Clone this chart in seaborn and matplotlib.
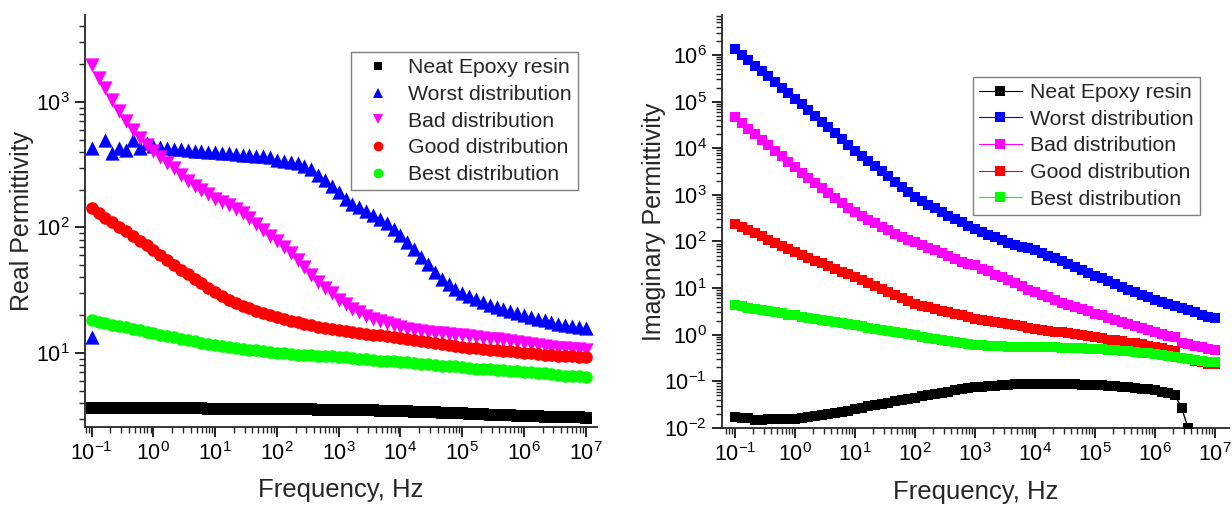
import numpy as np
import matplotlib
matplotlib.use("Agg")
import matplotlib.pyplot as plt
from matplotlib.lines import Line2D
from matplotlib.ticker import FixedLocator, NullFormatter, LogFormatterSciNotation
import seaborn as sns

# ---------------- data ----------------
freq = [
    0.1, 0.129, 0.167, 0.215, 0.278, 0.359, 0.464, 0.599, 0.774,
    1.0, 1.29, 1.67, 2.15, 2.78, 3.59, 4.64, 5.99, 7.74,
    10.0, 12.9, 16.7, 21.5, 27.8, 35.9, 46.4, 59.9, 77.4,
    100.0, 129.0, 167.0, 215.0, 278.0, 359.0, 464.0, 599.0, 774.0,
    1.0e3, 1.29e3, 1.67e3, 2.15e3, 2.78e3, 3.59e3, 4.64e3, 5.99e3, 7.74e3,
    1.0e4, 1.29e4, 1.67e4, 2.15e4, 2.78e4, 3.59e4, 4.64e4, 5.99e4, 7.74e4,
    1.0e5, 1.29e5, 1.67e5, 2.15e5, 2.78e5, 3.59e5, 4.64e5, 5.99e5, 7.74e5,
    1.0e6, 1.29e6, 1.67e6, 2.15e6, 2.78e6, 3.59e6, 4.64e6, 5.99e6, 7.74e6,
    1.0e7,
]

series_names = ["Neat Epoxy resin", "Worst distribution", "Bad distribution",
                "Good distribution", "Best distribution"]

# Real permittivity (left panel)
real_neat = [
    3.63, 3.63, 3.63, 3.63, 3.63, 3.63, 3.62, 3.62, 3.62,
    3.62, 3.62, 3.62, 3.61, 3.61, 3.61, 3.61, 3.61, 3.60,
    3.60, 3.60, 3.60, 3.59, 3.59, 3.59, 3.58, 3.58, 3.58,
    3.57, 3.57, 3.56, 3.56, 3.55, 3.55, 3.54, 3.54, 3.53,
    3.52, 3.51, 3.50, 3.50, 3.49, 3.48, 3.47, 3.46, 3.45,
    3.44, 3.42, 3.41, 3.39, 3.37, 3.36, 3.34, 3.33, 3.31,
    3.30, 3.28, 3.26, 3.25, 3.23, 3.21, 3.20, 3.18, 3.17,
    3.15, 3.14, 3.13, 3.11, 3.10, 3.09, 3.08, 3.07, 3.06,
    3.05,
]
real_worst = [
    427, np.nan, 500, 390, 427, 415, 500, 427, 470,
    445, 440, 430, 425, 420, 415, 410, 405, 402,
    400, 395, 390, 385, 380, 376, 372, 368, 364,
    345, 340, 335, 325, 310, 290, 262, 238, 215,
    190, 170, 155, 145, 135, 125, 117, 108, 97,
    87, 77, 67, 58, 51, 44, 39, 35.5, 32.5,
    30, 28.3, 26.8, 25.5, 24.3, 23.2, 22.3, 21.5, 20.7,
    20, 19.3, 18.7, 18.2, 17.6, 17.1, 16.7, 16.3, 16.0,
    15.7,
]
real_worst_extra_f = [0.1]
real_worst_extra_v = [13.4]
real_bad = [
    1970, 1550, 1280, 1030, 850, 700, 600, 520, 455,
    405, 365, 325, 295, 260, 235, 215, 200, 185,
    170, 160, 150, 140, 130, 120, 106, 96, 86,
    78, 70, 62, 55, 48, 42, 37, 33, 30,
    26.5, 24.5, 22.5, 21, 19.8, 18.8, 18.0, 17.3, 16.6,
    16.0, 15.5, 15.2, 14.9, 14.7, 14.5, 14.3, 14.1, 14.0,
    13.9, 13.6, 13.4, 13.2, 13.0, 12.8, 12.6, 12.4, 12.2,
    12.0, 11.8, 11.6, 11.4, 11.2, 11.0, 10.9, 10.8, 10.7,
    10.6,
]
real_good = [
    143, 131, 120, 110, 101, 93, 85, 78, 72,
    66, 60, 55, 50, 46, 42.5, 39, 36, 33,
    30.5, 28.5, 26.5, 25, 23.8, 22.7, 21.7, 20.8, 20.0,
    19.2, 18.5, 18.0, 17.5, 17.0, 16.6, 16.2, 15.9, 15.6,
    15.3, 15.0, 14.7, 14.5, 14.2, 14.0, 13.8, 13.6, 13.4,
    13.2, 13.0, 12.7, 12.5, 12.3, 12.0, 11.8, 11.6, 11.4,
    11.2, 11.0, 10.9, 10.7, 10.6, 10.5, 10.4, 10.3, 10.1,
    10.0, 9.9, 9.8, 9.7, 9.6, 9.5, 9.5, 9.4, 9.35,
    9.3,
]
real_best = [
    18.3, 17.8, 17.3, 16.8, 16.4, 16.0, 15.5, 15.1, 14.8,
    14.4, 14.0, 13.6, 13.3, 13.0, 12.7, 12.4, 12.1, 11.8,
    11.6, 11.4, 11.2, 11.0, 10.8, 10.6, 10.5, 10.3, 10.2,
    10.0, 9.9, 9.8, 9.7, 9.7, 9.6, 9.5, 9.4, 9.4,
    9.3, 9.2, 9.1, 9.0, 8.9, 8.8, 8.7, 8.7, 8.6,
    8.5, 8.4, 8.3, 8.2, 8.1, 8.0, 7.9, 7.8, 7.8,
    7.7, 7.6, 7.5, 7.5, 7.4, 7.3, 7.3, 7.2, 7.2,
    7.1, 7.0, 6.9, 6.9, 6.8, 6.7, 6.6, 6.6, 6.5,
    6.45,
]

# Imaginary permittivity (right panel)
imag_neat = [
    0.0175, 0.0160, 0.0165, 0.0148, 0.0152, 0.0155, 0.0155, 0.0153, 0.0153,
    0.0155, 0.0160, 0.0168, 0.0178, 0.0188, 0.020, 0.021, 0.022, 0.023,
    0.025, 0.027, 0.029, 0.031, 0.033, 0.035, 0.037, 0.039, 0.042,
    0.045, 0.048, 0.051, 0.054, 0.057, 0.060, 0.064, 0.067, 0.071,
    0.074, 0.077, 0.079, 0.081, 0.083, 0.085, 0.086, 0.087, 0.088,
    0.089, 0.089, 0.089, 0.088, 0.088, 0.087, 0.086, 0.085, 0.084,
    0.083, 0.082, 0.080, 0.078, 0.076, 0.074, 0.072, 0.070, 0.067,
    0.064, 0.060, 0.056, 0.051, 0.027, 0.0098, np.nan, np.nan, np.nan,
    np.nan,
]
imag_worst = [
    1.35e6, 1.02e6, 7.8e5, 5.9e5, 4.5e5, 3.5e5, 2.6e5, 2.0e5, 1.5e5,
    1.15e5, 8.7e4, 6.5e4, 4.9e4, 3.7e4, 2.8e4, 2.1e4, 1.6e4, 1.2e4,
    8.9e3, 6.9e3, 5.4e3, 4.2e3, 3.2e3, 2.5e3, 1.9e3, 1.5e3, 1.15e3,
    890, 740, 620, 510, 435, 360, 300, 257, 219,
    186, 162, 141, 123, 107, 95, 85, 78, 71,
    65, 57, 50, 44, 38, 32.4, 28.2, 24.5, 21.4,
    18.6, 16.2, 14.1, 12.3, 10.7, 9.3, 8.1, 7.1, 6.3,
    5.5, 5.0, 4.6, 4.2, 3.8, 3.4, 3.0, 2.7, 2.45,
    2.25,
]
imag_bad = [
    4.6e4, 3.5e4, 2.6e4, 2.0e4, 1.5e4, 1.17e4, 8.9e3, 6.8e3, 5.1e3,
    3.9e3, 2.95e3, 2.3e3, 1.78e3, 1.38e3, 1.07e3, 850, 660, 525,
    427, 355, 295, 245, 204, 174, 148, 126, 110,
    98, 85, 74, 65, 56, 49, 43, 37, 33,
    31, 26.3, 22.9, 19.5, 17.0, 14.8, 12.6, 11.0, 9.3,
    8.1, 7.2, 6.3, 5.6, 4.9, 4.4, 3.9, 3.5, 3.2,
    2.8, 2.6, 2.3, 2.1, 1.86, 1.7, 1.55, 1.41, 1.26,
    1.15, 1.05, 0.95, 0.89, 0.68, 0.63, 0.58, 0.54, 0.50,
    0.47,
]
imag_good = [
    240, 204, 174, 151, 129, 110, 93, 79, 69,
    59, 51, 45, 39, 34, 29.5, 25.7, 22.4, 20,
    17.4, 14.8, 12.9, 11.0, 9.5, 8.1, 7.1, 6.0, 5.2,
    4.6, 4.2, 3.9, 3.5, 3.3, 3.0, 2.8, 2.6, 2.4,
    2.2, 2.1, 1.95, 1.86, 1.78, 1.66, 1.58, 1.51, 1.41,
    1.35, 1.29, 1.23, 1.17, 1.12, 1.07, 1.02, 0.98, 0.93,
    0.89, 0.85, 0.79, 0.76, 0.72, 0.68, 0.65, 0.62, 0.58,
    0.55, 0.51, 0.48, 0.45, 0.32, 0.30, 0.28, 0.26, 0.24,
    0.23,
]
imag_best = [
    4.3, 4.1, 3.8, 3.6, 3.4, 3.2, 3.0, 2.9, 2.7,
    2.6, 2.45, 2.3, 2.2, 2.1, 1.95, 1.86, 1.78, 1.66,
    1.58, 1.51, 1.41, 1.35, 1.29, 1.20, 1.15, 1.10, 1.02,
    0.98, 0.91, 0.87, 0.81, 0.78, 0.72, 0.69, 0.66, 0.63,
    0.60, 0.59, 0.58, 0.56, 0.56, 0.55, 0.55, 0.55, 0.55,
    0.55, 0.55, 0.54, 0.54, 0.52, 0.52, 0.51, 0.51, 0.50,
    0.50, 0.49, 0.48, 0.46, 0.45, 0.44, 0.42, 0.41, 0.40,
    0.38, 0.36, 0.35, 0.33, 0.32, 0.30, 0.29, 0.28, 0.26,
    0.26,
]

x_major = [1e-1, 1e0, 1e1, 1e2, 1e3, 1e4, 1e5, 1e6, 1e7]
y_major_left = [1e1, 1e2, 1e3]
y_major_right = [1e-2, 1e-1, 1e0, 1e1, 1e2, 1e3, 1e4, 1e5, 1e6]

colors = ["#000000", "#0000FF", "#FF00FF", "#FF0000", "#00FF00"]
left_markers = ["s", "^", "v", "o", "o"]
left_sizes = [70, 105, 105, 82, 82]

# ---------------- style ----------------
sns.set_style("ticks")
plt.rcParams["font.family"] = ["Liberation Sans", "DejaVu Sans"]
plt.rcParams["mathtext.fontset"] = "custom"
plt.rcParams["mathtext.rm"] = "Liberation Sans"
plt.rcParams["mathtext.it"] = "Liberation Sans:italic"
plt.rcParams["mathtext.bf"] = "Liberation Sans:bold"
plt.rcParams["axes.unicode_minus"] = False
plt.rcParams["axes.linewidth"] = 1.3

fig = plt.figure(figsize=(12.32, 5.05), dpi=100)
axL = fig.add_axes([0.0690, 0.1545, 0.4156, 0.8158])
axR = fig.add_axes([0.5860, 0.1525, 0.4115, 0.8178])


def minor_positions(lo_exp, hi_exp):
    return [m * 10.0 ** e for e in range(lo_exp, hi_exp) for m in range(2, 10)]


def style_axis(ax, xlim, ylim, ymajor, ylabel, ylab_x):
    ax.set_xscale("log")
    ax.set_yscale("log")
    ax.set_xlim(*xlim)
    ax.set_ylim(*ylim)
    for s in ["top", "right"]:
        ax.spines[s].set_visible(False)
    ax.xaxis.set_major_locator(FixedLocator(x_major))
    ax.xaxis.set_minor_locator(FixedLocator(
        [v for v in minor_positions(-2, 8) if xlim[0] <= v <= xlim[1]]))
    ax.yaxis.set_major_locator(FixedLocator(ymajor))
    ax.yaxis.set_minor_locator(FixedLocator(
        [v for v in minor_positions(-3, 8) if ylim[0] <= v <= ylim[1]]))
    ax.xaxis.set_major_formatter(LogFormatterSciNotation())
    ax.yaxis.set_major_formatter(LogFormatterSciNotation())
    ax.xaxis.set_minor_formatter(NullFormatter())
    ax.yaxis.set_minor_formatter(NullFormatter())
    ax.tick_params(which="major", direction="out", length=7, width=1.2,
                   labelsize=15.5, pad=4, colors="black")
    ax.tick_params(which="minor", direction="out", length=4, width=1.0)
    ax.set_xlabel("Frequency, Hz", fontsize=18.5)
    ax.set_ylabel(ylabel, fontsize=18)
    ax.xaxis.set_label_coords(0.5, -0.125)
    ax.yaxis.set_label_coords(ylab_x, 0.5)
    ax.grid(False)


# ---------------- left panel ----------------
real_series = [real_neat, real_worst, real_bad, real_good, real_best]
for vals, c, m, s in zip(real_series, colors, left_markers, left_sizes):
    sns.scatterplot(x=freq, y=vals, ax=axL, color=c, marker=m, s=s,
                    linewidth=0, legend=False, zorder=3)
sns.scatterplot(x=real_worst_extra_f, y=real_worst_extra_v, ax=axL,
                color=colors[1], marker="^", s=left_sizes[1], linewidth=0,
                legend=False, zorder=3)
style_axis(axL, (0.078, 1.52e7), (2.57, 4930), y_major_left,
           "Real Permittivity", -0.10)

handlesL = [Line2D([], [], linestyle="none", marker=m, color=c, markersize=ms,
                   markeredgewidth=0)
            for m, c, ms in zip(left_markers, colors, [6, 7.5, 7.5, 7, 7])]
legL = axL.legend(handlesL, series_names, loc="upper left",
                  bbox_to_anchor=(0.519, 0.910), borderaxespad=0,
                  fontsize=15.3, frameon=True, fancybox=False, framealpha=1,
                  edgecolor="#7f7f7f", borderpad=0.3, handlelength=1.94,
                  handletextpad=0.46, labelspacing=0.36)
legL.get_frame().set_linewidth(1.0)

# ---------------- right panel ----------------
imag_series = [imag_neat, imag_worst, imag_bad, imag_good, imag_best]
for vals, c in zip(imag_series, colors):
    sns.lineplot(x=freq, y=vals, ax=axR, color=c, marker="s", markersize=7.5,
                 markeredgewidth=0, linewidth=1.0, legend=False, zorder=3)
style_axis(axR, (0.0607, 1.71e7), (0.01, 7.2e6), y_major_right,
           "Imaginary Permittivity", -0.11)

handlesR = [Line2D([], [], linestyle="-", linewidth=0.8, marker="s", color=c,
                   markersize=6.5, markeredgewidth=0) for c in colors]
legR = axR.legend(handlesR, series_names, loc="upper left",
                  bbox_to_anchor=(0.4945, 0.8506), borderaxespad=0,
                  fontsize=15.3, frameon=True, fancybox=False, framealpha=1,
                  edgecolor="#7f7f7f", borderpad=0.3, handlelength=2.0,
                  handletextpad=0.4, labelspacing=0.36)
legR.get_frame().set_linewidth(1.0)

fig.savefig("out.png", dpi=100, facecolor="white")
